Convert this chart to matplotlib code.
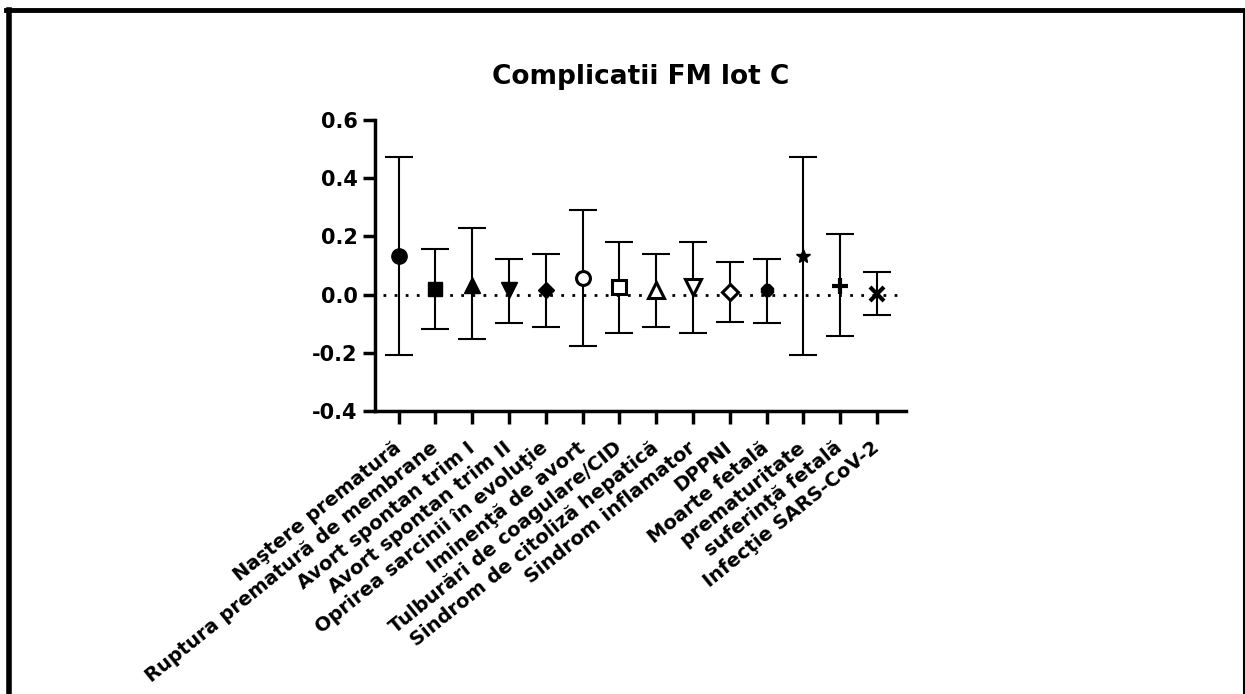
import numpy as np
import matplotlib.pyplot as plt
from matplotlib.lines import Line2D

categories = ['Naştere prematură', 'Ruptura prematură de membrane', 'Avort spontan trim I',
              'Avort spontan trim II', 'Oprirea sarcinii în evoluţie', 'Iminenţă de avort',
              'Tulburări de coagulare/CID', 'Sindrom de citoliză hepatică', 'Sindrom inflamator',
              'DPPNI', 'Moarte fetală', 'prematuritate', 'suferinţă fetală', 'Infecţie SARS-CoV-2']
means = [0.134, 0.018, 0.033, 0.015, 0.017, 0.057, 0.025, 0.017, 0.025, 0.009, 0.014, 0.134, 0.029, 0.003]
upper = [0.472, 0.158, 0.229, 0.123, 0.141, 0.290, 0.181, 0.141, 0.181, 0.113, 0.123, 0.472, 0.208, 0.078]
lower = [-0.208, -0.119, -0.152, -0.098, -0.111, -0.176, -0.131, -0.111, -0.131, -0.093, -0.098, -0.208, -0.144, -0.069]

markers = ['o', 's', '^', 'v', 'D', 'o', 's', '^', 'v', 'D', '8', '*', '+', 'x']
filled = [True, True, True, True, True, False, False, False, False, False, True, True, True, True]
sizes = [11, 10, 11, 11, 8, 10, 10, 11, 11, 8, 9, 10, 12, 10]

plt.rcParams['font.family'] = ['DejaVu Sans']
plt.rcParams['font.weight'] = 'bold'

fig = plt.figure(figsize=(12.45, 6.94), dpi=100)
ax = fig.add_axes([0.301, 0.408, 0.427, 0.419])

x = np.arange(len(categories))
ax.axhline(0, color='black', linestyle=(0, (1, 3)), linewidth=2, xmin=0.015, xmax=0.985, zorder=1)
for i in x:
    ax.errorbar(i, means[i], yerr=[[means[i] - lower[i]], [upper[i] - means[i]]],
                fmt='none', ecolor='black', elinewidth=1.5, capsize=10, capthick=1.5, zorder=2)
    if filled[i]:
        ax.plot(i, means[i], marker=markers[i], color='black', markersize=sizes[i],
                markeredgewidth=3 if markers[i] in ('+', 'x') else 1, linestyle='none', zorder=3)
    else:
        ax.plot(i, means[i], marker=markers[i], markerfacecolor='white', markeredgecolor='black',
                markersize=sizes[i], markeredgewidth=2.2, linestyle='none', zorder=3)

ax.set_xlim(-0.65, 13.8)
ax.set_ylim(-0.4, 0.6)
ax.set_yticks([-0.4, -0.2, 0.0, 0.2, 0.4, 0.6])
ax.set_yticklabels(['-0.4', '-0.2', '0.0', '0.2', '0.4', '0.6'], fontsize=15, fontweight='bold')
ax.set_xticks(x)
ax.set_xticklabels(categories, rotation=39, ha='right', va='center', rotation_mode='anchor',
                   fontsize=14, fontweight='bold')
ax.tick_params(axis='both', length=9, width=2.5, direction='out')
ax.tick_params(axis='x', pad=16)
ax.spines['top'].set_visible(False)
ax.spines['right'].set_visible(False)
ax.spines['left'].set_linewidth(2.5)
ax.spines['bottom'].set_linewidth(2.5)
ax.set_title('Complicatii FM lot C', fontsize=19, fontweight='bold', pad=26)

# frame around the figure
fig.add_artist(Line2D([0.007, 0.007], [0, 0.985], color='black', linewidth=4, transform=fig.transFigure))
fig.add_artist(Line2D([0.005, 1.0], [0.985, 0.985], color='black', linewidth=3.5, transform=fig.transFigure))
fig.add_artist(Line2D([0.999, 0.999], [0, 0.985], color='black', linewidth=1.5, transform=fig.transFigure))

fig.savefig('out.png', dpi=100, facecolor='white')
